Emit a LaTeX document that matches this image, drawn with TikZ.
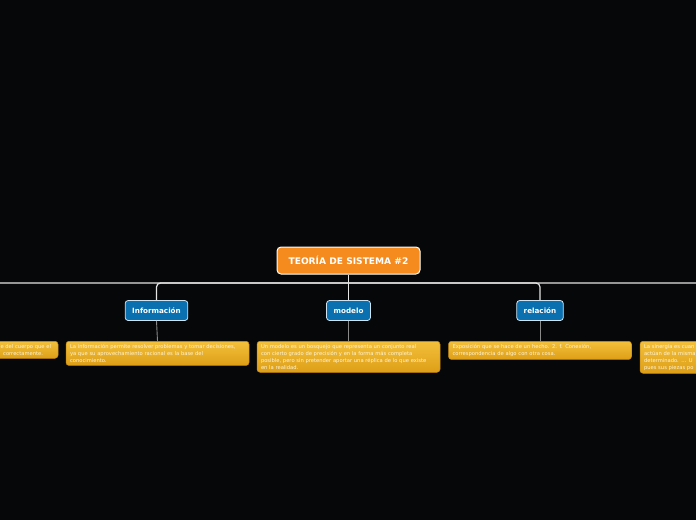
\documentclass[tikz,border=0pt]{standalone}
\usepackage{fontspec}
\setmainfont{DejaVu Sans}
\usetikzlibrary{shadings}
\definecolor{bg}{HTML}{060709}
\definecolor{orangec}{HTML}{F58B1F}
\definecolor{bluec}{HTML}{0B70B0}
\definecolor{leaftop}{HTML}{F3C03C}
\definecolor{leafbot}{HTML}{DE9E16}
\definecolor{leafbd}{HTML}{C88A12}
\definecolor{leaftxt}{HTML}{FFF6DA}
\definecolor{mainline}{HTML}{E4E4E4}
\definecolor{subline}{HTML}{8A8A8A}
\newcommand{\nohyph}{\hyphenpenalty=10000 \exhyphenpenalty=10000 }
\tikzset{
  central/.style={draw=white, line width=1pt, fill=orangec, rounded corners=4pt,
    minimum width=143pt, minimum height=27pt, inner sep=0pt,
    text=white, font=\bfseries\fontsize{9.1}{11}\selectfont},
  topic/.style={draw=white!80!bluec, line width=0.8pt, fill=bluec, rounded corners=3pt,
    minimum height=20pt, inner xsep=7pt, inner ysep=0pt,
    text=white, font=\bfseries\fontsize{7.2}{9}\selectfont},
  leaf/.style={draw=leafbd, line width=0.5pt, top color=leaftop, bottom color=leafbot,
    rounded corners=3pt, anchor=north, minimum width=183pt, text width=175pt,
    inner xsep=4pt, inner ysep=3pt, align=left, text=leaftxt,
    font=\fontsize{5.2}{7}\selectfont},
  conn/.style={draw=mainline, line width=1.2pt, rounded corners=4pt},
  subconn/.style={draw=subline, line width=0.9pt}
}
\begin{document}
\begin{tikzpicture}[x=1pt,y=-1pt]
\fill[bg] (0,0) rectangle (696,520);
\useasboundingbox (0,0) rectangle (696,520);
\clip (0,0) rectangle (696,520);

% central
\node[central] (c) at (348.5,260.5) {TEORÍA DE SISTEMA \#2};
\coordinate (hub) at (348.5,283);
\coordinate (lft) at (-35,300);
\coordinate (rgt) at (731,300);

% topics
\node[topic] (inf) at (156.5,310.5) {Información};
\node[topic] (mod) at (348.5,310.5) {modelo};
\node[topic] (rel) at (540,310.5) {relación};

% connectors
\draw[conn] (c.south) -- (hub);
\draw[conn] (hub) -| (lft);
\draw[conn] (hub) -| (rgt);
\draw[conn] (hub) -| (inf.north);
\draw[conn] (hub) -- (mod.north);
\draw[conn] (hub) -| (rel.north);

% leaves
\node[leaf, align=right] (lftl) at (-33.5,341) {e del cuerpo que el\kern3pt\\correctamente.\kern11pt};
\node[leaf] (infl) at (157.5,341) {\nohyph La información permite resolver problemas y tomar decisiones,\\ya que su aprovechamiento racional es la base del\\conocimiento.};
\node[leaf] (modl) at (348.5,341) {\nohyph Un modelo es un bosquejo que representa un conjunto real\\con cierto grado de precisión y en la forma más completa\\posible, pero sin pretender aportar una réplica de lo que existe\\en la realidad.};
\node[leaf] (rell) at (540,341) {\nohyph Exposición que se hace de un hecho. 2. f. Conexión,\\correspondencia de algo con otra cosa.};
\node[leaf] (rgtl) at (731.5,341) {La sinergia es cuan\\actúan de la misma\\determinado. ... U\\pues sus piezas po};

\draw[subconn] (inf.south) -- (infl.north);
\draw[subconn] (mod.south) -- (modl.north);
\draw[subconn] (rel.south) -- (rell.north);
\end{tikzpicture}
\end{document}
